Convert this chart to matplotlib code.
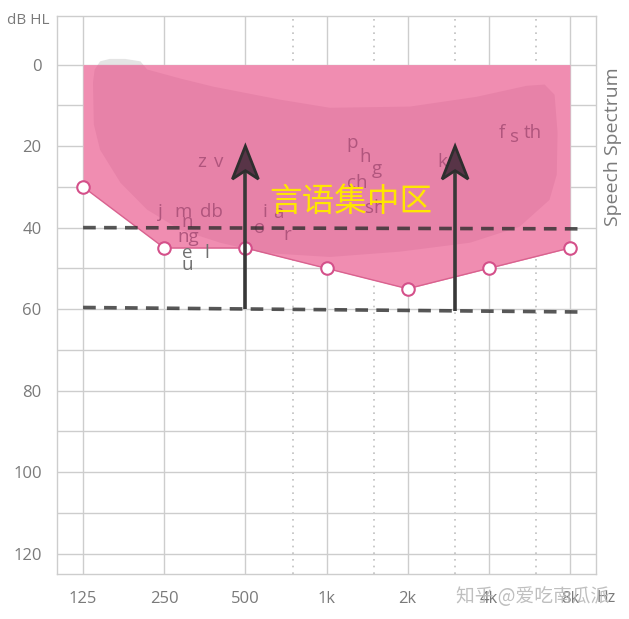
import matplotlib
matplotlib.use("Agg")
import matplotlib.pyplot as plt
import matplotlib.transforms as mtransforms
from matplotlib.patches import Polygon

plt.rcParams['font.family'] = ['Open Sans', 'Noto Sans CJK SC', 'DejaVu Sans']

# ---------------- data ----------------
freqs = [125, 250, 500, 1000, 2000, 4000, 8000]
tick_labels = ['125', '250', '500', '1k', '2k', '4k', '8k']
threshold_db = [30, 45, 45, 50, 55, 50, 45]
top_db = [0, 0, 0, 0, 0, 0, 0]
y_ticks = [0, 20, 40, 60, 80, 100, 120]
minor_freqs = [750, 1500, 3000, 6000]

# dashed reference lines
dash_x = [125, 8550]
dash1_db = [40.0, 40.3]
dash2_db = [59.6, 60.7]

# arrows: freq, start dB, tip dB
arrow_freqs = [500, 3000]
arrow_start = [60.0, 60.4]
arrow_tip = [20, 20]

# speech "banana" outline
blob_f = [136, 138, 144.5, 157, 179, 204, 216, 286, 379, 672, 1030, 2040, 3610, 5530,
          6450, 7020, 7200, 7150, 6720, 5200, 3410, 1870, 1030, 582, 403, 286, 216, 172,
          144.5, 137]
blob_db = [4.4, 1.2, -0.8, -1.4, -1.4, -0.8, 1.2, 3.4, 5.4, 8.6, 10.6, 10.3, 7.9, 5.2,
           4.9, 7.4, 16.7, 27, 33.2, 39.8, 43.7, 45.9, 47.2, 46.2, 43.7, 40.5, 35.6, 29,
           20.9, 14.7]

# phonemes
ph_text = ['z', 'v', 'j', 'm', 'db', 'n', 'ng', 'i', 'a', 'o', 'r',
           'p', 'h', 'g', 'ch', 'sh', 'k', 'f', 's', 'th']
ph_f = [345, 399, 242, 294, 373, 304, 306, 590, 660, 567, 718,
        1240, 1390, 1540, 1295, 1515, 2680, 4470, 5000, 5830]
ph_db = [24, 24, 36.1, 36.1, 36.1, 38.6, 42.3, 36.1, 36.4, 40, 41.8,
         19.3, 22.6, 25.6, 29, 35.1, 23.8, 16.7, 17.7, 16.7]
gray_text = ['e', 'l', 'u']
gray_f = [304, 360, 304]
gray_db = [46.2, 46.2, 49.1]

zone_label = '言语集中区'
zone_f, zone_db = 1230, 33.7

# ---------------- figure ----------------
fig = plt.figure(figsize=(6.29, 6.19), dpi=100)
ax = fig.add_axes([57/629, 1-574/619, (596-57)/629, (574-15.7)/619])
ax.set_xscale('log', base=2)
ax.set_xlim(100, 10000)
ax.set_ylim(125, -12)

grid_c = '#cdcdcd'
for f in freqs:
    ax.axvline(f, color=grid_c, lw=1, zorder=0)
for f in minor_freqs:
    ax.axvline(f, color='#c0c0c0', lw=1.2, ls=(0, (1, 3)), zorder=0)
for d in range(0, 121, 10):
    ax.axhline(d, color=grid_c, lw=1, zorder=0)
for s in ax.spines.values():
    s.set_color(grid_c)
    s.set_linewidth(1)

ax.set_xticks(freqs)
ax.set_xticklabels(tick_labels)
ax.set_yticks(y_ticks)
ax.set_yticklabels([str(v) for v in y_ticks])
ax.minorticks_off()
ax.tick_params(length=0, labelsize=12, colors='#7a7a7a')
ax.tick_params(axis='y', pad=11)
ax.tick_params(axis='x', pad=12)

# light gray shadow of the banana (visible only outside the pink area)
shadow = Polygon(list(zip(blob_f, blob_db)), closed=True, facecolor='#e4e4e4',
                 edgecolor='none', zorder=0.5)
ax.add_patch(shadow)

# speech area fill
area = ax.fill_between(freqs, top_db, threshold_db, color='#f08db1', lw=0, zorder=1)
ax.plot(freqs, threshold_db, color='#d9628f', lw=1, zorder=2)

# banana blob (inside pink area)
blob = Polygon(list(zip(blob_f, blob_db)), closed=True, facecolor='#c85c88', alpha=0.22,
               edgecolor='none', zorder=2)
ax.add_patch(blob)
blob.set_clip_path(area.get_paths()[0], ax.transData)

# phoneme letters
for t, f, d in zip(ph_text, ph_f, ph_db):
    ax.text(f, d, t, color='#b0557d', fontsize=13.5, ha='center', va='center', zorder=3)
for t, f, d in zip(gray_text, gray_f, gray_db):
    ax.text(f, d, t, color='#707070', fontsize=13.5, ha='center', va='center', zorder=3)

# markers
ax.plot(freqs, threshold_db, 'o', ms=9, mfc='white', mec='#d4508a', mew=1.5, zorder=4)

# dashed lines
ax.plot(dash_x, dash1_db, color='#2e2e2e', alpha=0.8, lw=2.6, ls=(0, (3.5, 2.3)), zorder=5)
ax.plot(dash_x, dash2_db, color='#2e2e2e', alpha=0.8, lw=2.6, ls=(0, (3.5, 2.3)), zorder=5)

# zone label
ax.text(zone_f, zone_db, zone_label, color='#ffe600', fontsize=23.5, ha='center', va='center',
        family=['Noto Sans CJK SC'], zorder=6)

# arrows: shaft + notched (stealth) head, head drawn in inch offsets from the tip
head_shape = [(0, 0), (-0.13, -0.33), (0, -0.245), (0.13, -0.33)]
for f, d0, d1 in zip(arrow_freqs, arrow_start, arrow_tip):
    ax.plot([f, f], [d0, d1 + 5], color='#383838', lw=2.6, solid_capstyle='butt', zorder=7)
    trans = fig.dpi_scale_trans + mtransforms.ScaledTranslation(f, d1, ax.transData)
    head = Polygon(head_shape, closed=True, transform=trans, facecolor='#583447',
                   edgecolor='#2e2e2e', lw=2.0, joinstyle='miter', zorder=8)
    ax.add_patch(head)

# side & corner labels
ax.text(1.031, 0.765, 'Speech Spectrum', transform=ax.transAxes, rotation=90,
        fontsize=14, color='#7a7a7a', ha='center', va='center')
fig.text(28/629, 1-20/619, 'dB HL', fontsize=11, color='#7a7a7a', ha='center', va='center')
fig.text(606/629, 1-598/619, 'Hz', fontsize=11.5, color='#7a7a7a', ha='center', va='center')
fig.text(533/629, 1-597/619, '知乎 @爱吃南瓜派', fontsize=13.5, color='#b8b8b8', ha='center',
         va='center', family=['Noto Sans CJK SC', 'DejaVu Sans'], alpha=0.9)

fig.savefig('out.png', dpi=100)
